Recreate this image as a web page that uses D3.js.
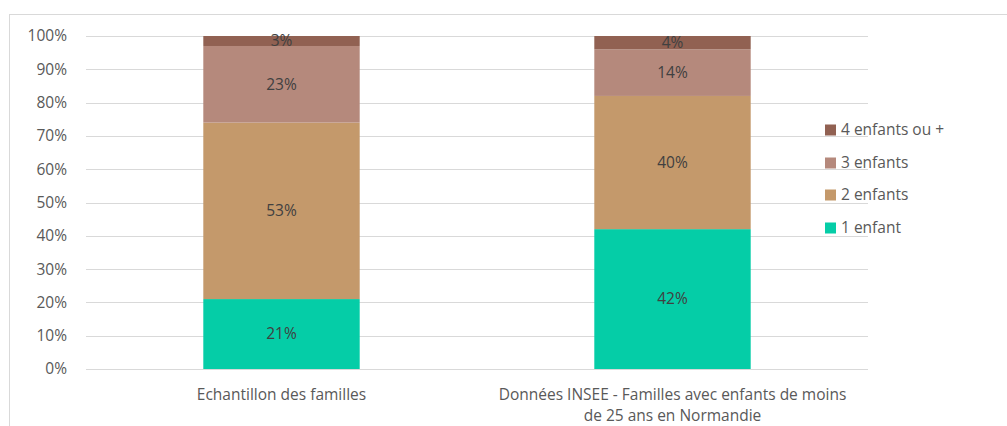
<!DOCTYPE html>
<html><head><meta charset="utf-8">
<script src="https://cdn.jsdelivr.net/npm/d3@7"></script>
<style>body{margin:0;background:#fff}text{font-family:"Open Sans","Liberation Sans",sans-serif}</style>
</head><body>
<svg id="c" width="1007" height="426"></svg>
<script>
const categories = [["Echantillon des familles"], ["Données INSEE - Familles avec enfants de moins", "de 25 ans en Normandie"]];
const seriesNames = ["1 enfant", "2 enfants", "3 enfants", "4 enfants ou +"];
const seriesColors = ["#05CDA7", "#C4996B", "#B5897C", "#916152"];
const values1 = [21, 42];
const values2 = [53, 40];
const values3 = [23, 14];
const values4 = [3, 4];
const yTicks = [0, 10, 20, 30, 40, 50, 60, 70, 80, 90, 100];

(function () {
const allVals = [values1, values2, values3, values4];
const FS = 15.5;
const svg = d3.select("#c");
svg.append("rect").attr("x", 9.5).attr("y", 14.5).attr("width", 1010).attr("height", 430)
  .attr("fill", "#fff").attr("stroke", "#d9d9d9");

const pl = 86, pr = 868, pt = 36, pb = 369;
const x = d3.scaleBand().domain(d3.range(categories.length)).range([pl, pr]).paddingInner(0.6).paddingOuter(0.3);
const y = d3.scaleLinear().domain([0, 100]).range([pb, pt]);

const g = svg.append("g");
g.selectAll("line.grid").data(yTicks).enter().append("line")
  .attr("x1", pl).attr("x2", pr).attr("y1", d => Math.round(y(d)) + 0.5).attr("y2", d => Math.round(y(d)) + 0.5)
  .attr("stroke", "#d9d9d9").attr("stroke-width", 1);
g.selectAll("text.yt").data(yTicks).enter().append("text")
  .attr("x", 67).attr("y", d => y(d)).attr("dy", "0.35em").attr("text-anchor", "end")
  .attr("fill", "#595959").attr("font-size", FS).text(d => d + "%");

const stack = d3.stack().keys(d3.range(4)).value((d, k) => allVals[k][d]);
const stacked = stack(d3.range(categories.length));
stacked.forEach((layer, k) => {
  layer.forEach((seg, i) => {
    g.append("rect").attr("x", x(i)).attr("width", x.bandwidth())
      .attr("y", y(seg[1])).attr("height", y(seg[0]) - y(seg[1])).attr("fill", seriesColors[k]);
  });
});
stacked.forEach((layer, k) => {
  layer.forEach((seg, i) => {
    g.append("text").attr("x", x(i) + x.bandwidth() / 2).attr("y", y((seg[0] + seg[1]) / 2))
      .attr("dy", "0.35em").attr("text-anchor", "middle").attr("fill", "#404040").attr("font-size", FS)
      .text(allVals[k][i] + "%");
  });
});

categories.forEach((lines, i) => {
  const t = g.append("text").attr("x", x(i) + x.bandwidth() / 2).attr("y", 400)
    .attr("text-anchor", "middle").attr("fill", "#595959").attr("font-size", FS);
  lines.forEach((l, j) => t.append("tspan").attr("x", x(i) + x.bandwidth() / 2).attr("dy", j ? 21 : 0).text(l));
});

const legY = [130, 163, 195, 228].reverse();
seriesNames.forEach((n, k) => {
  g.append("rect").attr("x", 825).attr("y", legY[k] - 5.5).attr("width", 11).attr("height", 11).attr("fill", seriesColors[k]);
  g.append("text").attr("x", 841).attr("y", legY[k]).attr("dy", "0.35em").attr("fill", "#595959").attr("font-size", FS).text(n);
});
})();
</script>
</body></html>
